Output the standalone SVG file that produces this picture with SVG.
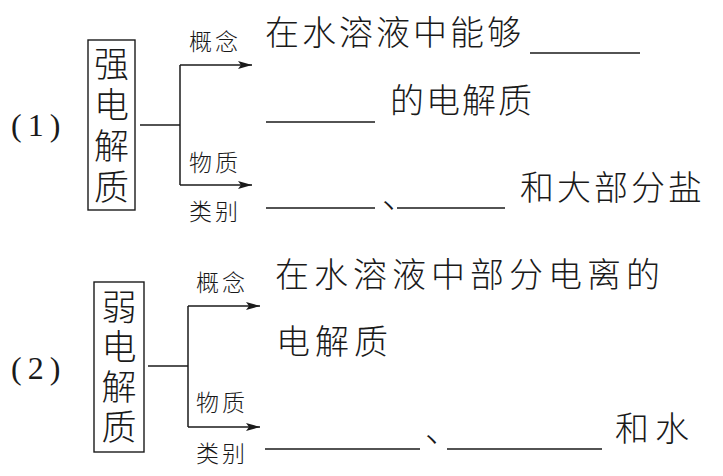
<svg xmlns="http://www.w3.org/2000/svg" width="723" height="476" viewBox="0 0 723 476">
<style>
.t{font-family:"Noto Sans CJK SC","Noto Sans CJK JP",sans-serif;fill:#1a1a1a;font-weight:300}
.big{font-size:34px}
.lab{font-size:23px;letter-spacing:3px}
.box{font-size:35px;writing-mode:vertical-rl;glyph-orientation-vertical:0}
.num{font-family:"Liberation Serif",serif;font-size:32px;fill:#1a1a1a;letter-spacing:6px}
.ln{stroke:#1a1a1a;stroke-width:1.5;fill:none}
.bx{stroke:#1a1a1a;stroke-width:1.4;fill:none}
.bl{stroke:#1a1a1a;stroke-width:1.4}
</style>
<defs>
<marker id="ah" viewBox="0 0 14 10" refX="14" refY="5" markerWidth="14" markerHeight="10" markerUnits="userSpaceOnUse" orient="auto">
<path d="M0,1 L14,5 L0,9 L3,5 Z" fill="#1a1a1a"/>
</marker>
</defs>
<rect width="723" height="476" fill="#ffffff"/>

<g id="label1"><text class="num" x="11" y="136">(1)</text></g>
<g id="strong">
<rect class="bx" x="88" y="40" width="47" height="170"/>
<text class="t box" x="111.5" y="46" letter-spacing="6">强电解质</text>
</g>
<g id="strong-concept">
<text class="t lab" x="189" y="50">概念</text>
<text class="t big" x="265" y="45" letter-spacing="3">在水溶液中能够</text>
<line class="bl" x1="530" y1="53" x2="640" y2="53"/>
<line class="bl" x1="266" y1="122" x2="375" y2="122"/>
<text class="t big" x="390" y="113" letter-spacing="2">的电解质</text>
</g>
<g id="strong-class">
<text class="t lab" x="189" y="171">物质</text>
<text class="t lab" x="189" y="220">类别</text>
<line class="bl" x1="266" y1="208" x2="375" y2="208"/>
<text class="t big" x="382" y="208">、</text>
<line class="bl" x1="397" y1="208" x2="505" y2="208"/>
<text class="t big" x="520" y="200" letter-spacing="3">和大部分盐</text>
</g>

<g id="label2"><text class="num" x="11" y="379">(2)</text></g>
<g id="weak">
<rect class="bx" x="94" y="282" width="50" height="170"/>
<text class="t box" x="119" y="289" letter-spacing="5">弱电解质</text>
</g>
<g id="weak-concept">
<text class="t lab" x="196" y="291">概念</text>
<text class="t big" x="275" y="287" letter-spacing="5">在水溶液中部分电离的</text>
<text class="t big" x="276" y="354" letter-spacing="5">电解质</text>
</g>
<g id="weak-class">
<text class="t lab" x="196" y="411">物质</text>
<text class="t lab" x="196" y="462">类别</text>
<line class="bl" x1="265" y1="449" x2="420" y2="449"/>
<text class="t big" x="425" y="442">、</text>
<line class="bl" x1="447" y1="449" x2="602" y2="449"/>
<text class="t big" x="615" y="441" letter-spacing="6">和水</text>
</g>

<g id="connectors">
<path class="ln" d="M140,125 H180"/>
<path class="ln" d="M180,65 V185"/>
<path class="ln" d="M180,65 H252" marker-end="url(#ah)"/>
<path class="ln" d="M180,185 H252" marker-end="url(#ah)"/>
<path class="ln" d="M148,366 H188"/>
<path class="ln" d="M188,306 V427"/>
<path class="ln" d="M188,306 H260" marker-end="url(#ah)"/>
<path class="ln" d="M188,427 H260" marker-end="url(#ah)"/>
</g>
</svg>
